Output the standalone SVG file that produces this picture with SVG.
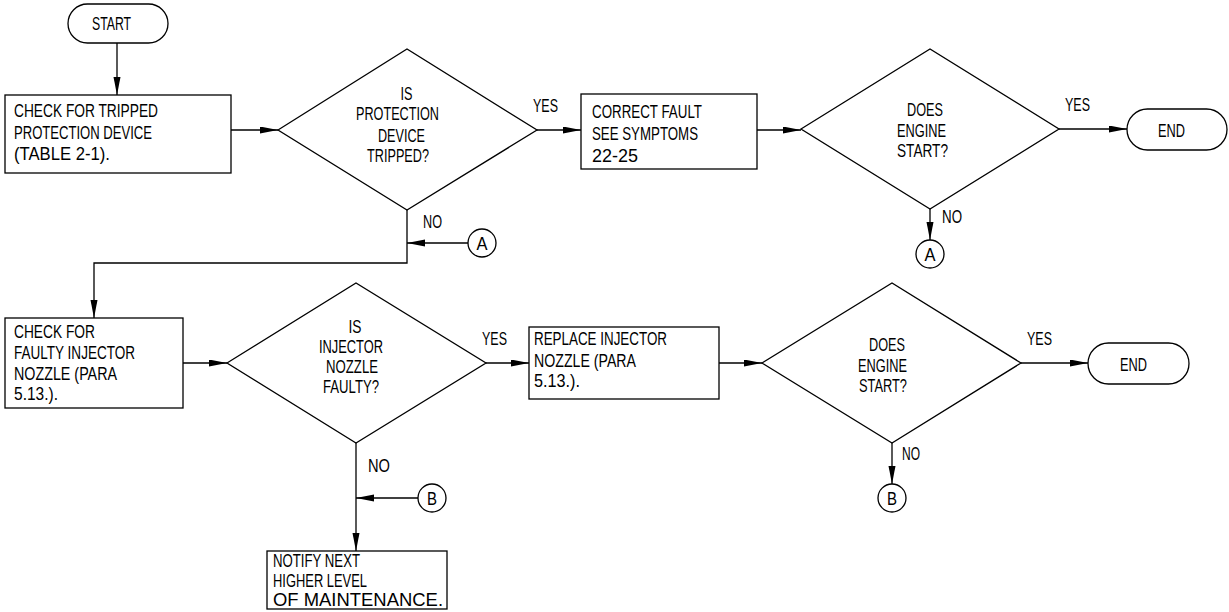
<svg xmlns="http://www.w3.org/2000/svg" width="1229" height="612" viewBox="0 0 1229 612">
<style>
.s{fill:none;stroke:#000;stroke-width:1.3}
.t{font-family:"Liberation Sans",Arial,sans-serif;font-size:19px;fill:#000}
.u{font-family:"Liberation Sans",Arial,sans-serif;font-size:17.5px;fill:#000}
.c{fill:none;stroke:#000;stroke-width:1.3}
</style>
<defs>
<marker id="ah" markerUnits="userSpaceOnUse" markerWidth="19" markerHeight="8" refX="18" refY="3.5" orient="auto">
<path d="M0,0 L18,3.5 L0,7 Z" fill="#000"/>
</marker>
</defs>
<rect width="1229" height="612" fill="#fff"/>
<g id="connectors">
<path class="c" d="M117,43 V95" marker-end="url(#ah)"/>
<path class="c" d="M231,130 H278" marker-end="url(#ah)"/>
<path class="c" d="M537,130 H581" marker-end="url(#ah)"/>
<path class="c" d="M757,130 H801" marker-end="url(#ah)"/>
<path class="c" d="M1059,129 H1127" marker-end="url(#ah)"/>
<path class="c" d="M930,209 V240" marker-end="url(#ah)"/>
<path class="c" d="M407,210 V263 H94 V318" marker-end="url(#ah)"/>
<path class="c" d="M468,243 H407" marker-end="url(#ah)"/>
<path class="c" d="M183,363 H227" marker-end="url(#ah)"/>
<path class="c" d="M486,363 H529" marker-end="url(#ah)"/>
<path class="c" d="M719,363 H762" marker-end="url(#ah)"/>
<path class="c" d="M1021,363 H1088" marker-end="url(#ah)"/>
<path class="c" d="M892,443 V484" marker-end="url(#ah)"/>
<path class="c" d="M356,443 V551" marker-end="url(#ah)"/>
<path class="c" d="M418,498 H356" marker-end="url(#ah)"/>
<text class="t" x="533" y="112" textLength="25" lengthAdjust="spacingAndGlyphs">YES</text>
<text class="t" x="1065" y="111" textLength="25" lengthAdjust="spacingAndGlyphs">YES</text>
<text class="t" x="942" y="223" textLength="20" lengthAdjust="spacingAndGlyphs">NO</text>
<text class="t" x="423" y="228" textLength="19" lengthAdjust="spacingAndGlyphs">NO</text>
<text class="t" x="482" y="345" textLength="25" lengthAdjust="spacingAndGlyphs">YES</text>
<text class="t" x="1027" y="345" textLength="25" lengthAdjust="spacingAndGlyphs">YES</text>
<text class="t" x="902" y="460" textLength="18" lengthAdjust="spacingAndGlyphs">NO</text>
<text class="t" x="368" y="472" textLength="22" lengthAdjust="spacingAndGlyphs">NO</text>
</g>
<g id="start">
<rect class="s" x="68" y="4" width="100" height="39" rx="19.5"/>
<text class="t" x="92" y="29.5" textLength="39" lengthAdjust="spacingAndGlyphs">START</text>
</g>
<g id="box1">
<rect class="s" x="5" y="95" width="226" height="78"/>
<text class="t" x="14" y="117" textLength="144" lengthAdjust="spacingAndGlyphs">CHECK FOR TRIPPED</text>
<text class="t" x="14" y="138.5" textLength="138" lengthAdjust="spacingAndGlyphs">PROTECTION DEVICE</text>
<text class="t" x="14" y="160" textLength="96" lengthAdjust="spacingAndGlyphs">(TABLE 2-1).</text>
</g>
<g id="diamond1">
<path class="s" d="M278,130 L407,49 L537,130 L407,210 Z"/>
<text class="t" x="400.5" y="100" textLength="12" lengthAdjust="spacingAndGlyphs">IS</text>
<text class="t" x="356" y="120" textLength="83" lengthAdjust="spacingAndGlyphs">PROTECTION</text>
<text class="t" x="378" y="141.5" textLength="47" lengthAdjust="spacingAndGlyphs">DEVICE</text>
<text class="t" x="367" y="162" textLength="62" lengthAdjust="spacingAndGlyphs">TRIPPED?</text>
</g>
<g id="box2">
<rect class="s" x="581" y="94" width="176" height="75"/>
<text class="t" x="592" y="118" textLength="110" lengthAdjust="spacingAndGlyphs">CORRECT FAULT</text>
<text class="t" x="592" y="140" textLength="106" lengthAdjust="spacingAndGlyphs">SEE SYMPTOMS</text>
<text class="t" x="592" y="162" textLength="46" lengthAdjust="spacingAndGlyphs">22-25</text>
</g>
<g id="diamond2">
<path class="s" d="M801,129 L930,49 L1059,129 L930,209 Z"/>
<text class="u" x="907" y="116" textLength="36" lengthAdjust="spacingAndGlyphs">DOES</text>
<text class="u" x="897" y="137" textLength="49" lengthAdjust="spacingAndGlyphs">ENGINE</text>
<text class="u" x="897" y="157" textLength="51" lengthAdjust="spacingAndGlyphs">START?</text>
</g>
<g id="end1">
<rect class="s" x="1127" y="109" width="100" height="41" rx="20.5"/>
<text class="t" x="1158" y="137" textLength="27" lengthAdjust="spacingAndGlyphs">END</text>
</g>
<g id="connA_right">
<circle class="s" cx="930" cy="254" r="14"/>
<text class="t" x="930" y="260.5" text-anchor="middle" textLength="11" lengthAdjust="spacingAndGlyphs">A</text>
</g>
<g id="connA_left">
<circle class="s" cx="482" cy="243" r="14"/>
<text class="t" x="482" y="249.5" text-anchor="middle" textLength="11" lengthAdjust="spacingAndGlyphs">A</text>
</g>
<g id="box3">
<rect class="s" x="5" y="318" width="178" height="90"/>
<text class="t" x="14" y="338" textLength="81" lengthAdjust="spacingAndGlyphs">CHECK FOR</text>
<text class="t" x="14" y="359" textLength="121" lengthAdjust="spacingAndGlyphs">FAULTY INJECTOR</text>
<text class="t" x="14" y="380" textLength="103" lengthAdjust="spacingAndGlyphs">NOZZLE (PARA</text>
<text class="t" x="14" y="400" textLength="44" lengthAdjust="spacingAndGlyphs">5.13.).</text>
</g>
<g id="diamond3">
<path class="s" d="M227,363 L356,283 L486,363 L356,443 Z"/>
<text class="t" x="348.5" y="333" textLength="13" lengthAdjust="spacingAndGlyphs">IS</text>
<text class="t" x="319" y="353" textLength="64" lengthAdjust="spacingAndGlyphs">INJECTOR</text>
<text class="t" x="326" y="373" textLength="52" lengthAdjust="spacingAndGlyphs">NOZZLE</text>
<text class="t" x="323" y="393" textLength="56" lengthAdjust="spacingAndGlyphs">FAULTY?</text>
</g>
<g id="box4">
<rect class="s" x="529" y="327" width="190" height="72"/>
<text class="t" x="534" y="345" textLength="133" lengthAdjust="spacingAndGlyphs">REPLACE INJECTOR</text>
<text class="t" x="534" y="367" textLength="102" lengthAdjust="spacingAndGlyphs">NOZZLE (PARA</text>
<text class="t" x="534" y="387" textLength="46" lengthAdjust="spacingAndGlyphs">5.13.).</text>
</g>
<g id="diamond4">
<path class="s" d="M762,363 L892,283 L1021,363 L892,443 Z"/>
<text class="u" x="869" y="351" textLength="36" lengthAdjust="spacingAndGlyphs">DOES</text>
<text class="u" x="858" y="372" textLength="49" lengthAdjust="spacingAndGlyphs">ENGINE</text>
<text class="u" x="859" y="392" textLength="48" lengthAdjust="spacingAndGlyphs">START?</text>
</g>
<g id="end2">
<rect class="s" x="1088" y="343" width="101" height="41" rx="20.5"/>
<text class="t" x="1120" y="370.5" textLength="27" lengthAdjust="spacingAndGlyphs">END</text>
</g>
<g id="connB_right">
<circle class="s" cx="892" cy="498" r="14"/>
<text class="t" x="892" y="504.5" text-anchor="middle" textLength="10" lengthAdjust="spacingAndGlyphs">B</text>
</g>
<g id="connB_left">
<circle class="s" cx="432" cy="498" r="14"/>
<text class="t" x="432" y="504.5" text-anchor="middle" textLength="10" lengthAdjust="spacingAndGlyphs">B</text>
</g>
<g id="box5">
<rect class="s" x="267" y="551" width="180" height="58"/>
<text class="t" x="273" y="567" textLength="87" lengthAdjust="spacingAndGlyphs">NOTIFY NEXT</text>
<text class="t" x="273" y="587" textLength="94" lengthAdjust="spacingAndGlyphs">HIGHER LEVEL</text>
<text class="t" x="273" y="606" textLength="170" lengthAdjust="spacingAndGlyphs">OF MAINTENANCE.</text>
</g>
</svg>
